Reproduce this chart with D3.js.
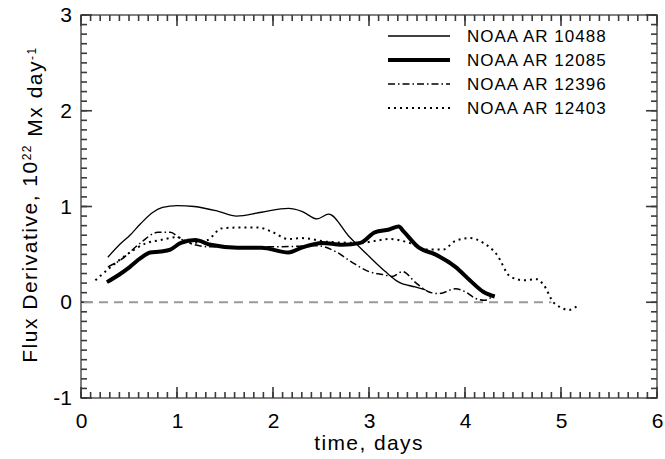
<!DOCTYPE html>
<html>
<head>
<meta charset="utf-8">
<script src="https://cdn.jsdelivr.net/npm/d3@7"></script>
<style>
body { margin: 0; background: #fff; }
text { font-family: "Liberation Sans", Arial, Helvetica, sans-serif; }
</style>
</head>
<body>
<script>
// series
var t10488 = [0.28,0.40,0.51,0.62,0.75,0.85,1.0,1.18,1.43,1.62,1.88,2.16,2.30,2.46,2.58,2.79,3.0,3.17,3.31,3.48,3.59];
var v10488 = [0.47,0.60,0.70,0.82,0.94,0.99,1.01,1.0,0.95,0.90,0.94,0.98,0.95,0.87,0.92,0.69,0.48,0.32,0.21,0.16,0.13];
var t12085 = [0.27,0.40,0.51,0.62,0.72,0.83,0.93,1.04,1.19,1.35,1.63,1.88,2.16,2.30,2.51,2.72,2.91,3.06,3.21,3.31,3.36,3.52,3.69,3.90,4.05,4.19,4.31];
var v12085 = [0.21,0.29,0.37,0.46,0.52,0.53,0.55,0.62,0.65,0.60,0.57,0.57,0.52,0.57,0.62,0.60,0.62,0.73,0.76,0.79,0.74,0.57,0.50,0.37,0.23,0.11,0.06];
var t12396 = [0.28,0.41,0.62,0.80,0.93,1.04,1.32,1.63,2.08,2.47,2.65,2.82,3.0,3.14,3.24,3.35,3.48,3.62,3.73,3.90,4.0,4.11,4.20,4.27];
var v12396 = [0.37,0.44,0.62,0.73,0.73,0.66,0.58,0.58,0.58,0.59,0.53,0.42,0.32,0.29,0.27,0.32,0.21,0.11,0.09,0.14,0.11,0.04,0.02,0.05];
var t12403 = [0.15,0.30,0.48,0.69,0.83,1.0,1.14,1.32,1.46,1.63,1.85,1.98,2.16,2.30,2.58,2.91,3.06,3.21,3.42,3.59,3.77,3.90,4.05,4.19,4.33,4.47,4.61,4.75,4.82,4.92,4.99,5.08,5.18];
var v12403 = [0.23,0.36,0.50,0.62,0.65,0.68,0.62,0.65,0.77,0.78,0.78,0.74,0.66,0.67,0.63,0.62,0.64,0.66,0.62,0.55,0.55,0.64,0.67,0.62,0.50,0.27,0.23,0.24,0.18,0.0,-0.05,-0.08,-0.03];
var names = ["NOAA AR 10488", "NOAA AR 12085", "NOAA AR 12396", "NOAA AR 12403"];
var xTicks = [0,1,2,3,4,5,6];
var yTicks = [-1,0,1,2,3];
var zeroLine = [0, 4.9];

var width = 665, height = 459;
var padding = { top: 15, right: 8, bottom: 61, left: 81 };

var svg = d3.select("body").append("svg")
    .attr("width", width)
    .attr("height", height);

var x = d3.scaleLinear().domain([0, 6]).range([padding.left, width - padding.right]);
var y = d3.scaleLinear().domain([-1, 3]).range([height - padding.bottom, padding.top]);

var axisColor = "#3a3a3a";
var minorX = d3.range(0, 60.5).map(function(d) { return d / 10; });
var minorY = d3.range(-10, 30.5).map(function(d) { return d / 10; });

svg.append("rect")
    .attr("x", x(0)).attr("y", y(3))
    .attr("width", x(6) - x(0)).attr("height", y(-1) - y(3))
    .attr("fill", "none")
    .attr("stroke", "#555")
    .attr("stroke-width", 1.5);

// inward tick marks on all four sides
function xTickMarks(vals, len) {
    var g = svg.append("g");
    g.selectAll("line.b").data(vals).enter().append("line")
        .attr("x1", function(d) { return x(d); }).attr("x2", function(d) { return x(d); })
        .attr("y1", y(-1)).attr("y2", y(-1) - len);
    g.selectAll("line.t").data(vals).enter().append("line")
        .attr("x1", function(d) { return x(d); }).attr("x2", function(d) { return x(d); })
        .attr("y1", y(3)).attr("y2", y(3) + len);
    g.selectAll("line").attr("stroke", axisColor).attr("stroke-width", 1.6);
}
function yTickMarks(vals, len) {
    var g = svg.append("g");
    g.selectAll("line.l").data(vals).enter().append("line")
        .attr("y1", function(d) { return y(d); }).attr("y2", function(d) { return y(d); })
        .attr("x1", x(0)).attr("x2", x(0) + len);
    g.selectAll("line.r").data(vals).enter().append("line")
        .attr("y1", function(d) { return y(d); }).attr("y2", function(d) { return y(d); })
        .attr("x1", x(6)).attr("x2", x(6) - len);
    g.selectAll("line").attr("stroke", axisColor).attr("stroke-width", 1.6);
}
xTickMarks(minorX, 6);
xTickMarks(xTicks, 11);
yTickMarks(minorY, 6);
yTickMarks(yTicks, 11);

// tick labels through the axis generators
var xAxisG = svg.append("g")
    .attr("transform", "translate(0," + y(-1) + ")")
    .call(d3.axisBottom(x).tickValues(xTicks).tickSize(0).tickPadding(15));
var yAxisG = svg.append("g")
    .attr("transform", "translate(" + x(0) + ",0)")
    .call(d3.axisLeft(y).tickValues(yTicks).tickSize(0).tickPadding(9));
[xAxisG, yAxisG].forEach(function(g) {
    g.select(".domain").remove();
    g.selectAll(".tick line").remove();
    g.selectAll(".tick text")
        .attr("fill", "#000")
        .attr("font-size", "21px")
        .text(function(d) { return String(d); });
});

// zero line
svg.append("line")
    .attr("x1", x(zeroLine[0]) + 3).attr("x2", x(zeroLine[1]))
    .attr("y1", y(0)).attr("y2", y(0))
    .attr("stroke", "#9a9a9a")
    .attr("stroke-width", 2)
    .attr("stroke-dasharray", "9,6");

var styles = [
    { w: 1.3, dash: null },
    { w: 4, dash: null },
    { w: 1.5, dash: "7,3,1.5,3" },
    { w: 2, dash: "2,4" }
];
var series = [[t10488, v10488], [t12085, v12085], [t12396, v12396], [t12403, v12403]];

var line = d3.line()
    .x(function(d) { return x(d[0]); })
    .y(function(d) { return y(d[1]); })
    .curve(d3.curveMonotoneX);

series.forEach(function(s, i) {
    var pts = s[0].map(function(t, j) { return [t, s[1][j]]; });
    svg.append("path")
        .attr("d", line(pts))
        .attr("fill", "none")
        .attr("stroke", "#000")
        .attr("stroke-width", styles[i].w)
        .attr("stroke-dasharray", styles[i].dash)
        .attr("stroke-linejoin", "round");
});

// legend
var legend = svg.append("g");
names.forEach(function(n, i) {
    var ly = 36 + i * 24;
    legend.append("line")
        .attr("x1", 388).attr("x2", 450)
        .attr("y1", ly).attr("y2", ly)
        .attr("stroke", "#000")
        .attr("stroke-width", styles[i].w)
        .attr("stroke-dasharray", styles[i].dash);
    legend.append("text")
        .attr("x", 467).attr("y", ly + 6)
        .attr("font-size", "17px")
        .attr("letter-spacing", "1px")
        .attr("fill", "#000")
        .text(n);
});

// axis titles
svg.append("text")
    .attr("x", x(3)).attr("y", 450)
    .attr("text-anchor", "middle")
    .attr("font-size", "21px")
    .attr("letter-spacing", "1.4px")
    .attr("fill", "#000")
    .text("time, days");

var yt = svg.append("text")
    .attr("transform", "translate(37," + (y(1) - 2) + ") rotate(-90)")
    .attr("text-anchor", "middle")
    .attr("font-size", "21px")
    .attr("letter-spacing", "1.5px")
    .attr("fill", "#000");
yt.append("tspan").text("Flux Derivative, 10");
yt.append("tspan").attr("dy", "-0.5em").attr("font-size", "12px").text("22");
yt.append("tspan").attr("dy", "0.5em").text(" Mx day");
yt.append("tspan").attr("dy", "-0.5em").attr("font-size", "12px").text("-1");
</script>
</body>
</html>
